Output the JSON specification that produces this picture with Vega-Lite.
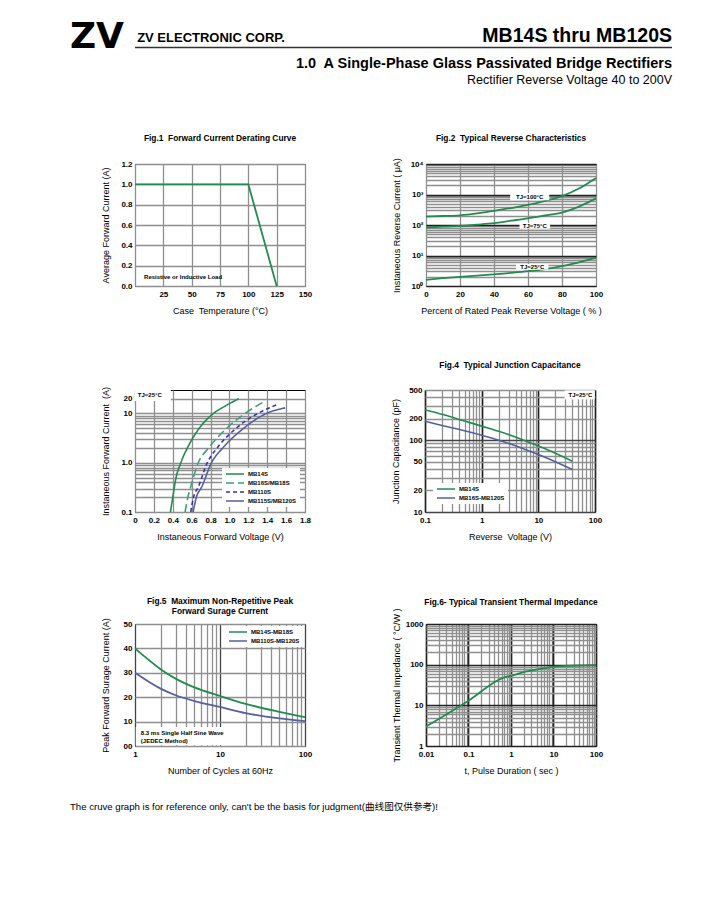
{
"$schema": "https://vega.github.io/schema/vega-lite/v6.json",
"background": "white",
"padding": {"left": 70, "top": 0, "right": 5, "bottom": 5},
"spacing": 44,
"resolve": {"scale": {"color": "independent", "strokeDash": "independent"}, "legend": {"color": "independent", "strokeDash": "independent"}},
"title": {"text": "The cruve graph is for reference only, can't be the basis for judgment(曲线图仅供参考)!", "orient": "bottom", "anchor": "start", "frame": "bounds", "font": "Liberation Sans, Noto Sans CJK SC", "fontSize": 9.6, "fontWeight": "normal", "color": "black", "offset": 26},
"config": {
  "font": "Liberation Sans",
  "view": {"stroke": "black", "strokeWidth": 1},
  "axis": {"ticks": false, "domain": false, "labelFont": "Liberation Sans", "labelFontSize": 8, "labelFontWeight": "bold", "labelColor": "black", "titleFont": "Liberation Sans", "titleFontSize": 9, "titleFontWeight": "normal", "titleColor": "black", "gridColor": "#8f8f8f", "gridWidth": 1.3, "gridOpacity": 1, "labelOverlap": false, "labelFlush": false, "labelBound": false},
  "axisX": {"labelPadding": 4, "titlePadding": 8},
  "axisY": {"labelPadding": 3, "titleX": -30, "titleBaseline": "middle"},
  "title": {"font": "Liberation Sans", "fontSize": 8.4, "fontWeight": "bold", "color": "black", "anchor": "middle", "offset": 15},
  "legend": {"labelFont": "Liberation Sans", "labelFontSize": 6, "labelFontWeight": "bold", "labelColor": "black", "symbolType": "stroke", "symbolSize": 324, "symbolStrokeWidth": 1.5, "fillColor": "white", "padding": 3, "rowPadding": 3, "labelOffset": 3, "clipHeight": 6, "title": null}
},
"vconcat": [
{
  "width": 537, "height": 88.5,
  "view": {"stroke": null},
  "layer": [
    {"data": {"values": [{"label": "ZV"}]},
     "mark": {"type": "text", "font": "DejaVu Sans", "fontSize": 36, "fontWeight": "bold", "align": "left", "baseline": "alphabetic", "dx": -65},
     "encoding": {"x": {"datum": 0, "type": "quantitative", "scale": {"domain": [0, 1], "nice": false}, "axis": null}, "y": {"datum": 0.4576, "type": "quantitative", "scale": {"domain": [0, 1], "nice": false}, "axis": null}, "text": {"field": "label"}}},
    {"data": {"values": [{"label": "ZV ELECTRONIC CORP."}]},
     "mark": {"type": "text", "font": "Liberation Sans", "fontSize": 13, "fontWeight": "bold", "align": "left", "baseline": "alphabetic"},
     "encoding": {"x": {"datum": 0.004, "type": "quantitative", "axis": null}, "y": {"datum": 0.5254, "type": "quantitative", "axis": null}, "text": {"field": "label"}}},
    {"data": {"values": [{"label": "line"}]},
     "mark": {"type": "rule", "color": "#333333", "strokeWidth": 1.5},
     "encoding": {"x": {"datum": 0, "type": "quantitative", "axis": null}, "x2": {"datum": 1}, "y": {"datum": 0.4633, "type": "quantitative", "axis": null}}},
    {"data": {"values": [{"label": "MB14S thru MB120S"}]},
     "mark": {"type": "text", "font": "Liberation Sans", "fontSize": 19.5, "fontWeight": "bold", "align": "right", "baseline": "alphabetic"},
     "encoding": {"x": {"datum": 1, "type": "quantitative", "axis": null}, "y": {"datum": 0.5254, "type": "quantitative", "axis": null}, "text": {"field": "label"}}},
    {"data": {"values": [{"label": "1.0\u00a0 A Single-Phase Glass Passivated Bridge Rectifiers"}]},
     "mark": {"type": "text", "font": "Liberation Sans", "fontSize": 14.5, "fontWeight": "bold", "align": "right", "baseline": "alphabetic"},
     "encoding": {"x": {"datum": 1, "type": "quantitative", "axis": null}, "y": {"datum": 0.2316, "type": "quantitative", "axis": null}, "text": {"field": "label"}}},
    {"data": {"values": [{"label": "Rectifier Reverse Voltage 40 to 200V"}]},
     "mark": {"type": "text", "font": "Liberation Sans", "fontSize": 12.5, "fontWeight": "normal", "align": "right", "baseline": "alphabetic"},
     "encoding": {"x": {"datum": 1, "type": "quantitative", "axis": null}, "y": {"datum": 0.0508, "type": "quantitative", "axis": null}, "text": {"field": "label"}}}
  ]
},
{
  "spacing": 78,
  "resolve": {"scale": {"color": "independent", "strokeDash": "independent"}, "legend": {"color": "independent", "strokeDash": "independent"}},
  "hconcat": [
  {
    "width": 170, "height": 122,
    "title": {"text": "Fig.1\u00a0 Forward Current Derating Curve", "offset": 17.5},
    "encoding": {
      "x": {"field": "x", "type": "quantitative", "scale": {"domain": [0, 150], "nice": false}, "axis": {"title": "Case\u00a0 Temperature (°C)", "values": [0, 25, 50, 75, 100, 125, 150], "labelExpr": "datum.value==0?'':toString(datum.value)"}},
      "y": {"field": "y", "type": "quantitative", "scale": {"domain": [0, 1.2], "nice": false}, "axis": {"title": "Average Forward Current (A)", "values": [0, 0.2, 0.4, 0.6, 0.8, 1.0, 1.2], "format": ".1f"}}
    },
    "layer": [
      {"data": {"values": [{"x": 0, "y": 1.0}, {"x": 100, "y": 1.0}, {"x": 125, "y": 0.0}]},
       "mark": {"type": "line", "color": "#228b50", "strokeWidth": 1.8}},
      {"data": {"values": [{"x": 8, "y": 0.09, "label": "Resistive or Inductive Load"}]},
       "mark": {"type": "text", "align": "left", "baseline": "middle", "fontSize": 6, "fontWeight": "bold", "color": "black"},
       "encoding": {"text": {"field": "label"}}}
    ]
  },
  {
    "width": 170, "height": 122,
    "title": {"text": "Fig.2\u00a0 Typical Reverse Characteristics", "offset": 15},
    "encoding": {
      "x": {"field": "x", "type": "quantitative", "scale": {"domain": [0, 100], "nice": false}, "axis": {"title": "Percent of Rated Peak Reverse Voltage ( % )", "values": [0, 20, 40, 60, 80, 100]}},
      "y": {"field": "y", "type": "quantitative", "scale": {"type": "log", "domain": [1, 10000], "nice": false}, "axis": {"title": "Instaneous Reverse Current ( μA)", "values": [1,2,3,4,5,6,7,8,9,10,20,30,40,50,60,70,80,90,100,200,300,400,500,600,700,800,900,1000,2000,3000,4000,5000,6000,7000,8000,9000,10000], "labelExpr": "datum.value==1?'10⁰':datum.value==10?'10¹':datum.value==100?'10²':datum.value==1000?'10³':datum.value==10000?'10⁴':''", "gridColor": {"condition": {"test": "abs(log(datum.value)/LN10-round(log(datum.value)/LN10))<0.001", "value": "#222222"}, "value": "#8f8f8f"}, "gridWidth": {"condition": {"test": "abs(log(datum.value)/LN10-round(log(datum.value)/LN10))<0.001", "value": 1.7}, "value": 1.3}}}
    },
    "layer": [
      {"data": {"values": [
        {"s": "100", "x": 0, "y": 190}, {"s": "100", "x": 10, "y": 197}, {"s": "100", "x": 20, "y": 208}, {"s": "100", "x": 30, "y": 240}, {"s": "100", "x": 40, "y": 290}, {"s": "100", "x": 50, "y": 360}, {"s": "100", "x": 60, "y": 454}, {"s": "100", "x": 70, "y": 620}, {"s": "100", "x": 80, "y": 890}, {"s": "100", "x": 90, "y": 1570}, {"s": "100", "x": 100, "y": 3500},
        {"s": "75", "x": 0, "y": 83}, {"s": "75", "x": 10, "y": 88}, {"s": "75", "x": 20, "y": 94}, {"s": "75", "x": 30, "y": 103}, {"s": "75", "x": 40, "y": 115}, {"s": "75", "x": 50, "y": 138}, {"s": "75", "x": 60, "y": 166}, {"s": "75", "x": 70, "y": 205}, {"s": "75", "x": 80, "y": 255}, {"s": "75", "x": 90, "y": 400}, {"s": "75", "x": 100, "y": 745},
        {"s": "25", "x": 0, "y": 1.6}, {"s": "25", "x": 10, "y": 1.8}, {"s": "25", "x": 20, "y": 2.0}, {"s": "25", "x": 30, "y": 2.2}, {"s": "25", "x": 40, "y": 2.4}, {"s": "25", "x": 50, "y": 2.7}, {"s": "25", "x": 60, "y": 3.07}, {"s": "25", "x": 70, "y": 3.6}, {"s": "25", "x": 80, "y": 4.47}, {"s": "25", "x": 90, "y": 6.0}, {"s": "25", "x": 100, "y": 8.3}
       ]},
       "mark": {"type": "line", "color": "#228b50", "strokeWidth": 1.8, "interpolate": "monotone"},
       "encoding": {"detail": {"field": "s"}}},
      {"data": {"values": [{"x": 49.5, "x2": 72.5, "y": 650, "y2": 1120}, {"x": 55, "x2": 73, "y": 75, "y2": 118}, {"x": 53, "x2": 72, "y": 3.4, "y2": 5.3}]},
       "mark": {"type": "rect", "fill": "white"},
       "encoding": {"x2": {"field": "x2"}, "y2": {"field": "y2"}}},
      {"data": {"values": [{"x": 61, "y": 850, "label": "TJ=100°C"}, {"x": 64, "y": 94, "label": "TJ=75°C"}, {"x": 62.5, "y": 4.2, "label": "TJ=25°C"}]},
       "mark": {"type": "text", "align": "center", "baseline": "middle", "fontSize": 6, "fontWeight": "bold", "color": "black"},
       "encoding": {"text": {"field": "label"}}}
    ]
  }
  ]
},
{
  "spacing": 78,
  "resolve": {"scale": {"color": "independent", "strokeDash": "independent"}, "legend": {"color": "independent", "strokeDash": "independent"}},
  "hconcat": [
  {
    "width": 170, "height": 122,
    "encoding": {
      "x": {"field": "x", "type": "quantitative", "scale": {"domain": [0, 1.8], "nice": false}, "axis": {"title": "Instaneous Forward Voltage (V)", "values": [0, 0.2, 0.4, 0.6, 0.8, 1.0, 1.2, 1.4, 1.6, 1.8], "labelExpr": "datum.value==0?'0':format(datum.value,'.1f')"}},
      "y": {"field": "y", "type": "quantitative", "scale": {"type": "log", "domain": [0.1, 30], "nice": false}, "axis": {"title": "Instaneous Forward Current\u00a0 (A)", "values": [0.1,0.2,0.3,0.4,0.5,0.6,0.7,0.8,0.9,1,2,3,4,5,6,7,8,9,10,20], "labelExpr": "datum.value==0.1?'0.1':datum.value==1?'1.0':datum.value==10?'10':datum.value==20?'20':''"}}
    },
    "layer": [
      {"data": {"values": [
        {"s": "MB14S", "x": 0.375, "y": 0.1}, {"s": "MB14S", "x": 0.4, "y": 0.2}, {"s": "MB14S", "x": 0.43, "y": 0.45}, {"s": "MB14S", "x": 0.485, "y": 1.0}, {"s": "MB14S", "x": 0.555, "y": 2.0}, {"s": "MB14S", "x": 0.68, "y": 5.0}, {"s": "MB14S", "x": 0.83, "y": 10}, {"s": "MB14S", "x": 0.95, "y": 14}, {"s": "MB14S", "x": 1.1, "y": 20},
        {"s": "MB16S/MB18S", "x": 0.53, "y": 0.1}, {"s": "MB16S/MB18S", "x": 0.56, "y": 0.2}, {"s": "MB16S/MB18S", "x": 0.595, "y": 0.35}, {"s": "MB16S/MB18S", "x": 0.67, "y": 1.0}, {"s": "MB16S/MB18S", "x": 0.78, "y": 2.0}, {"s": "MB16S/MB18S", "x": 0.97, "y": 5.0}, {"s": "MB16S/MB18S", "x": 1.165, "y": 10}, {"s": "MB16S/MB18S", "x": 1.38, "y": 18},
        {"s": "MB110S", "x": 0.59, "y": 0.1}, {"s": "MB110S", "x": 0.62, "y": 0.2}, {"s": "MB110S", "x": 0.67, "y": 0.32}, {"s": "MB110S", "x": 0.765, "y": 1.0}, {"s": "MB110S", "x": 0.87, "y": 2.0}, {"s": "MB110S", "x": 1.07, "y": 5.0}, {"s": "MB110S", "x": 1.3, "y": 10}, {"s": "MB110S", "x": 1.5, "y": 15},
        {"s": "MB115S/MB120S", "x": 0.615, "y": 0.1}, {"s": "MB115S/MB120S", "x": 0.65, "y": 0.2}, {"s": "MB115S/MB120S", "x": 0.705, "y": 0.32}, {"s": "MB115S/MB120S", "x": 0.81, "y": 1.0}, {"s": "MB115S/MB120S", "x": 0.93, "y": 2.0}, {"s": "MB115S/MB120S", "x": 1.15, "y": 5.0}, {"s": "MB115S/MB120S", "x": 1.39, "y": 10}, {"s": "MB115S/MB120S", "x": 1.59, "y": 13}
       ]},
       "mark": {"type": "line", "strokeWidth": 1.6, "interpolate": "monotone"},
       "encoding": {
         "color": {"field": "s", "type": "nominal", "scale": {"domain": ["MB14S", "MB16S/MB18S", "MB110S", "MB115S/MB120S"], "range": ["#228b50", "#3d9e80", "#3535b0", "#56609e"]}, "legend": {"orient": "bottom-right", "offset": 5, "title": null}},
         "strokeDash": {"field": "s", "type": "nominal", "scale": {"domain": ["MB14S", "MB16S/MB18S", "MB110S", "MB115S/MB120S"], "range": [[1, 0], [8, 4], [4, 3], [1, 0]]}, "legend": {"orient": "bottom-right", "offset": 5, "title": null}}
       }},
      {"data": {"values": [{"x": 0, "x2": 0.38, "y": 18, "y2": 30}]},
       "mark": {"type": "rect", "fill": "white"},
       "encoding": {"x2": {"field": "x2"}, "y2": {"field": "y2"}}},
      {"data": {"values": [{"x": 0.03, "y": 23.5, "label": "TJ=25°C"}]},
       "mark": {"type": "text", "align": "left", "baseline": "middle", "fontSize": 6, "fontWeight": "bold", "color": "black"},
       "encoding": {"text": {"field": "label"}}}
    ]
  },
  {
    "width": 170, "height": 122,
    "title": {"text": "Fig.4\u00a0 Typical Junction Capacitance", "offset": 16.5},
    "encoding": {
      "x": {"field": "x", "type": "quantitative", "scale": {"type": "log", "domain": [0.1, 100], "nice": false}, "axis": {"title": "Reverse\u00a0 Voltage (V)", "values": [0.1,0.2,0.3,0.4,0.5,0.6,0.7,0.8,0.9,1,2,3,4,5,6,7,8,9,10,20,30,40,50,60,70,80,90,100], "labelExpr": "datum.value==0.1||datum.value==1||datum.value==10||datum.value==100?toString(datum.value):''", "gridColor": {"condition": {"test": "abs(log(datum.value)/LN10-round(log(datum.value)/LN10))<0.001", "value": "#222222"}, "value": "#8f8f8f"}, "gridWidth": {"condition": {"test": "abs(log(datum.value)/LN10-round(log(datum.value)/LN10))<0.001", "value": 1.7}, "value": 1.3}}},
      "y": {"field": "y", "type": "quantitative", "scale": {"type": "log", "domain": [10, 500], "nice": false}, "axis": {"title": "Junction Capacitance (pF)", "values": [10,20,30,40,50,60,70,80,90,100,200,300,400,500], "labelExpr": "datum.value==10||datum.value==20||datum.value==50||datum.value==100||datum.value==200||datum.value==500?toString(datum.value):''", "gridColor": {"condition": {"test": "abs(log(datum.value)/LN10-round(log(datum.value)/LN10))<0.001", "value": "#444444"}, "value": "#8f8f8f"}}}
    },
    "layer": [
      {"data": {"values": [
        {"s": "MB14S", "x": 0.1, "y": 266}, {"s": "MB14S", "x": 0.2, "y": 230}, {"s": "MB14S", "x": 0.5, "y": 185}, {"s": "MB14S", "x": 1, "y": 157}, {"s": "MB14S", "x": 2, "y": 133}, {"s": "MB14S", "x": 5, "y": 103}, {"s": "MB14S", "x": 10, "y": 83}, {"s": "MB14S", "x": 20, "y": 66}, {"s": "MB14S", "x": 40, "y": 51},
        {"s": "MB16S-MB120S", "x": 0.1, "y": 184}, {"s": "MB16S-MB120S", "x": 0.2, "y": 160}, {"s": "MB16S-MB120S", "x": 0.5, "y": 135}, {"s": "MB16S-MB120S", "x": 1, "y": 117}, {"s": "MB16S-MB120S", "x": 2, "y": 100}, {"s": "MB16S-MB120S", "x": 5, "y": 78}, {"s": "MB16S-MB120S", "x": 10, "y": 63}, {"s": "MB16S-MB120S", "x": 20, "y": 50}, {"s": "MB16S-MB120S", "x": 40, "y": 39}
       ]},
       "mark": {"type": "line", "strokeWidth": 1.6, "interpolate": "monotone"},
       "encoding": {"color": {"field": "s", "type": "nominal", "scale": {"domain": ["MB14S", "MB16S-MB120S"], "range": ["#228b50", "#56609e"]}, "legend": {"orient": "bottom-left", "offset": 8, "title": null}}}},
      {"data": {"values": [{"x": 29, "x2": 99, "y": 370, "y2": 495}]},
       "mark": {"type": "rect", "fill": "white"},
       "encoding": {"x2": {"field": "x2"}, "y2": {"field": "y2"}}},
      {"data": {"values": [{"x": 90, "y": 425, "label": "TJ=25°C"}]},
       "mark": {"type": "text", "align": "right", "baseline": "middle", "fontSize": 6, "fontWeight": "bold", "color": "black"},
       "encoding": {"text": {"field": "label"}}}
    ]
  }
  ]
},
{
  "spacing": 78,
  "resolve": {"scale": {"color": "independent", "strokeDash": "independent"}, "legend": {"color": "independent", "strokeDash": "independent"}},
  "hconcat": [
  {
    "width": 170, "height": 122,
    "title": {"text": ["", "Fig.5\u00a0 Maximum Non-Repetitive Peak", "Forward Surage Current"], "lineHeight": 10, "offset": 2.5},
    "encoding": {
      "x": {"field": "x", "type": "quantitative", "scale": {"type": "log", "domain": [1, 100], "nice": false}, "axis": {"title": "Number of Cycles at 60Hz", "values": [1,2,3,4,5,6,7,8,9,10,20,30,40,50,60,70,80,90,100], "labelExpr": "datum.value==1||datum.value==10||datum.value==100?toString(datum.value):''", "gridColor": {"condition": {"test": "abs(log(datum.value)/LN10-round(log(datum.value)/LN10))<0.001", "value": "#444444"}, "value": "#8f8f8f"}}},
      "y": {"field": "y", "type": "quantitative", "scale": {"domain": [0, 50], "nice": false}, "axis": {"title": "Peak Forward Surage Current (A)", "values": [0, 10, 20, 30, 40, 50], "labelExpr": "datum.value==0?'00':toString(datum.value)"}}
    },
    "layer": [
      {"data": {"values": [
        {"s": "MB14S-MB18S", "x": 1, "y": 40}, {"s": "MB14S-MB18S", "x": 2, "y": 31.5}, {"s": "MB14S-MB18S", "x": 3, "y": 27.6}, {"s": "MB14S-MB18S", "x": 5, "y": 24}, {"s": "MB14S-MB18S", "x": 10, "y": 20.5}, {"s": "MB14S-MB18S", "x": 20, "y": 17.3}, {"s": "MB14S-MB18S", "x": 50, "y": 14}, {"s": "MB14S-MB18S", "x": 100, "y": 11.8},
        {"s": "MB110S-MB120S", "x": 1, "y": 30}, {"s": "MB110S-MB120S", "x": 2, "y": 23.5}, {"s": "MB110S-MB120S", "x": 3, "y": 20.8}, {"s": "MB110S-MB120S", "x": 5, "y": 18.4}, {"s": "MB110S-MB120S", "x": 10, "y": 16}, {"s": "MB110S-MB120S", "x": 20, "y": 13.5}, {"s": "MB110S-MB120S", "x": 50, "y": 11.3}, {"s": "MB110S-MB120S", "x": 100, "y": 10.2}
       ]},
       "mark": {"type": "line", "strokeWidth": 1.8, "interpolate": "monotone"},
       "encoding": {"color": {"field": "s", "type": "nominal", "scale": {"domain": ["MB14S-MB18S", "MB110S-MB120S"], "range": ["#228b50", "#56609e"]}, "legend": {"orient": "top-right", "offset": 2, "title": null}}}},
      {"data": {"values": [{"x": 1.02, "x2": 13, "y": 0.3, "y2": 7.8}]},
       "mark": {"type": "rect", "fill": "white"},
       "encoding": {"x2": {"field": "x2"}, "y2": {"field": "y2"}}},
      {"data": {"values": [{"x": 1.17, "y": 5.3, "label": "8.3 ms Single Half Sine Wave"}, {"x": 1.17, "y": 2.0, "label": "(JEDEC Method)"}]},
       "mark": {"type": "text", "align": "left", "baseline": "middle", "fontSize": 6, "fontWeight": "bold", "color": "black"},
       "encoding": {"text": {"field": "label"}}}
    ]
  },
  {
    "width": 170, "height": 122,
    "title": {"text": "Fig.6- Typical Transient Thermal Impedance", "offset": 1.5},
    "encoding": {
      "x": {"field": "x", "type": "quantitative", "scale": {"type": "log", "domain": [0.01, 100], "nice": false}, "axis": {"title": "t, Pulse Duration ( sec )", "values": [0.01,0.02,0.03,0.04,0.05,0.06,0.07,0.08,0.09,0.1,0.2,0.3,0.4,0.5,0.6,0.7,0.8,0.9,1,2,3,4,5,6,7,8,9,10,20,30,40,50,60,70,80,90,100], "labelExpr": "datum.value==0.01||datum.value==0.1||datum.value==1||datum.value==10||datum.value==100?toString(datum.value):''", "gridColor": {"condition": {"test": "abs(log(datum.value)/LN10-round(log(datum.value)/LN10))<0.001", "value": "#222222"}, "value": "#8f8f8f"}, "gridWidth": {"condition": {"test": "abs(log(datum.value)/LN10-round(log(datum.value)/LN10))<0.001", "value": 1.7}, "value": 1.3}}},
      "y": {"field": "y", "type": "quantitative", "scale": {"type": "log", "domain": [1, 1000], "nice": false}, "axis": {"title": "Transient Thermal Impedance ( °C/W )", "values": [1,2,3,4,5,6,7,8,9,10,20,30,40,50,60,70,80,90,100,200,300,400,500,600,700,800,900,1000], "labelExpr": "datum.value==1||datum.value==10||datum.value==100||datum.value==1000?toString(datum.value):''", "gridColor": {"condition": {"test": "abs(log(datum.value)/LN10-round(log(datum.value)/LN10))<0.001", "value": "#222222"}, "value": "#8f8f8f"}, "gridWidth": {"condition": {"test": "abs(log(datum.value)/LN10-round(log(datum.value)/LN10))<0.001", "value": 1.7}, "value": 1.3}}}
    },
    "layer": [
      {"data": {"values": [{"x": 0.01, "y": 3.0}, {"x": 0.1, "y": 13}, {"x": 0.7, "y": 49}, {"x": 1, "y": 53}, {"x": 2, "y": 66}, {"x": 5, "y": 79}, {"x": 10, "y": 88}, {"x": 20, "y": 93}, {"x": 50, "y": 96}, {"x": 100, "y": 98}]},
       "mark": {"type": "line", "color": "#228b50", "strokeWidth": 1.8, "interpolate": "monotone"}}
    ]
  }
  ]
}
]
}
